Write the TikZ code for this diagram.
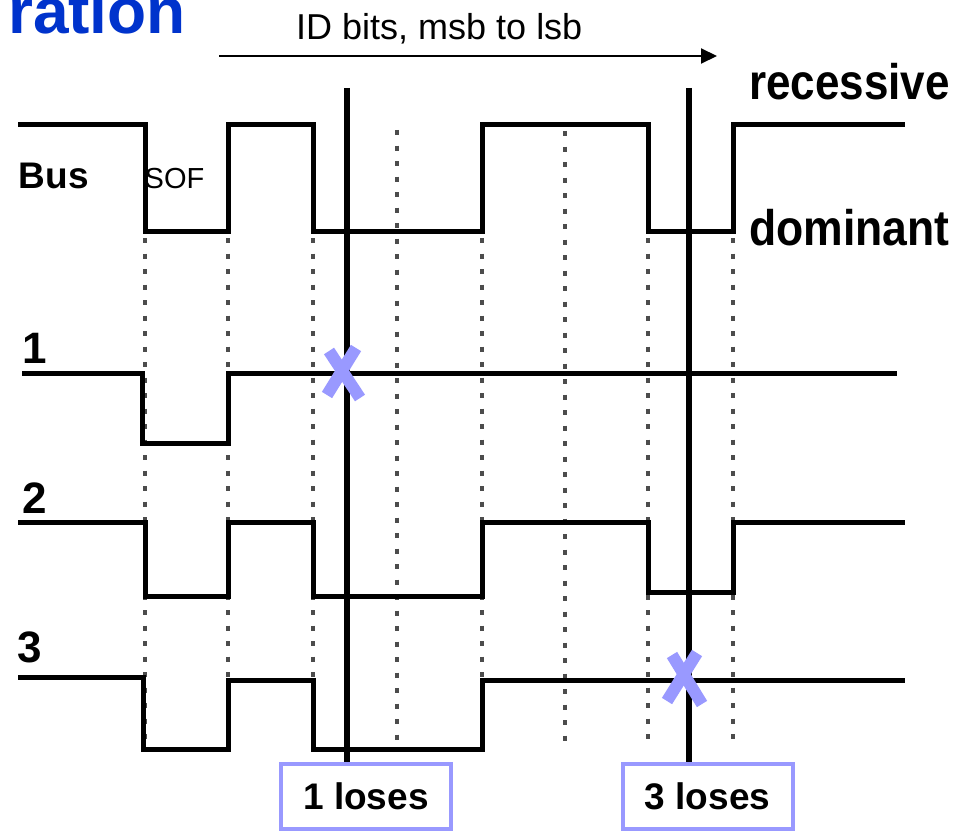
\documentclass[tikz,border=0pt]{standalone}
\usepackage{fontspec}
\usepackage{graphicx}
\setmainfont{Liberation Sans}
\usetikzlibrary{arrows.meta}
\definecolor{titleblue}{RGB}{0,51,204}
\definecolor{markviolet}{RGB}{153,153,255}
\newcommand\fsz[1]{\fontsize{#1}{#1}\selectfont}

\begin{document}
\begin{tikzpicture}[x=1pt,y=-1pt,
  txt/.style={inner sep=0pt, anchor=base west},
  sig/.style={inner sep=0pt, anchor=base, font=\bfseries\fsz{44}},
  wave/.style={line width=5pt, line join=miter, black},
  gridline/.style={line width=3.6pt, black!70, dash pattern=on 5pt off 10.5pt},
  cutline/.style={line width=5.5pt, black},
  xmark/.style={line width=12pt, markviolet},
  lossbox/.style={draw=markviolet, line width=4pt, fill=white,
    minimum width=170pt, minimum height=65pt, inner sep=0pt,
    font=\bfseries\fsz{37}},
  idarrow/.style={line width=2pt, -{Triangle[length=16pt,width=15pt]}}]

\clip (0,0) rectangle (963,832);
\fill[white] (0,0) rectangle (963,832);

% heading fragment and bit-direction arrow
\node[txt, font=\bfseries\fsz{64}, text=titleblue] (title) at (8,34) {ration};
\node[txt, font=\fsz{36}] (idbits) at (296,40) {ID bits, msb to lsb};
\coordinate (idL) at (219,56);
\coordinate (idR) at (717,56);
\draw[idarrow] (idL) -- (idR);

% bit boundaries
\foreach \x/\t in {145/238,228/238,313/238,397/130,482/238,565/131,648/238,733/238}
  \draw[gridline] (\x,\t) -- (\x,748);

% bus level and node waveforms
\draw[wave] (18,125) -| (145,231) -| (228,125) -| (313,231) -| (482,125)
  -| (648,231) -| (733,125) -- (905,125);
\draw[wave] (22,373) -| (142,443) -| (228,373) -- (897,373);
\draw[wave] (18,522) -| (145,596) -| (228,522) -| (313,596) -| (482,522)
  -| (648,592) -| (733,522) -- (905,522);
\draw[wave] (18,677) -| (143,749) -| (228,680) -| (313,749) -| (482,680)
  -- (905,680);

% labels
\node[txt, font=\bfseries\fsz{37}] (bus) at (18.5,188) {Bus};
\node[txt, font=\fsz{29}] (sof) at (144.5,188) {SOF};
\node[txt, font=\bfseries\fsz{50}] (rec) at (749,100) {\scalebox{0.88}[1]{recessive}};
\node[txt, font=\bfseries\fsz{50}] (dom) at (749,245) {\scalebox{0.89}[1]{dominant}};
\node[sig] (n1) at (35,363) {1};
\node[sig] (n2) at (35,513) {2};
\node[sig] (n3) at (30,662) {3};

% arbitration losses
\node[lossbox] (lose1) at (366,796.5) {1 loses};
\node[lossbox] (lose3) at (707.5,796.5) {3 loses};
\coordinate (cut1) at (347,88);
\coordinate (cut3) at (689,88);
\draw[cutline] (cut1) -- (cut1 |- lose1.north);
\draw[cutline] (cut3) -- (cut3 |- lose3.north);

\draw[xmark] (329,351) -- (360,398);
\draw[xmark] (356,348) -- (327,395);
\draw[xmark] (672,655) -- (702,704);
\draw[xmark] (697,653) -- (667,701);
\end{tikzpicture}
\end{document}
